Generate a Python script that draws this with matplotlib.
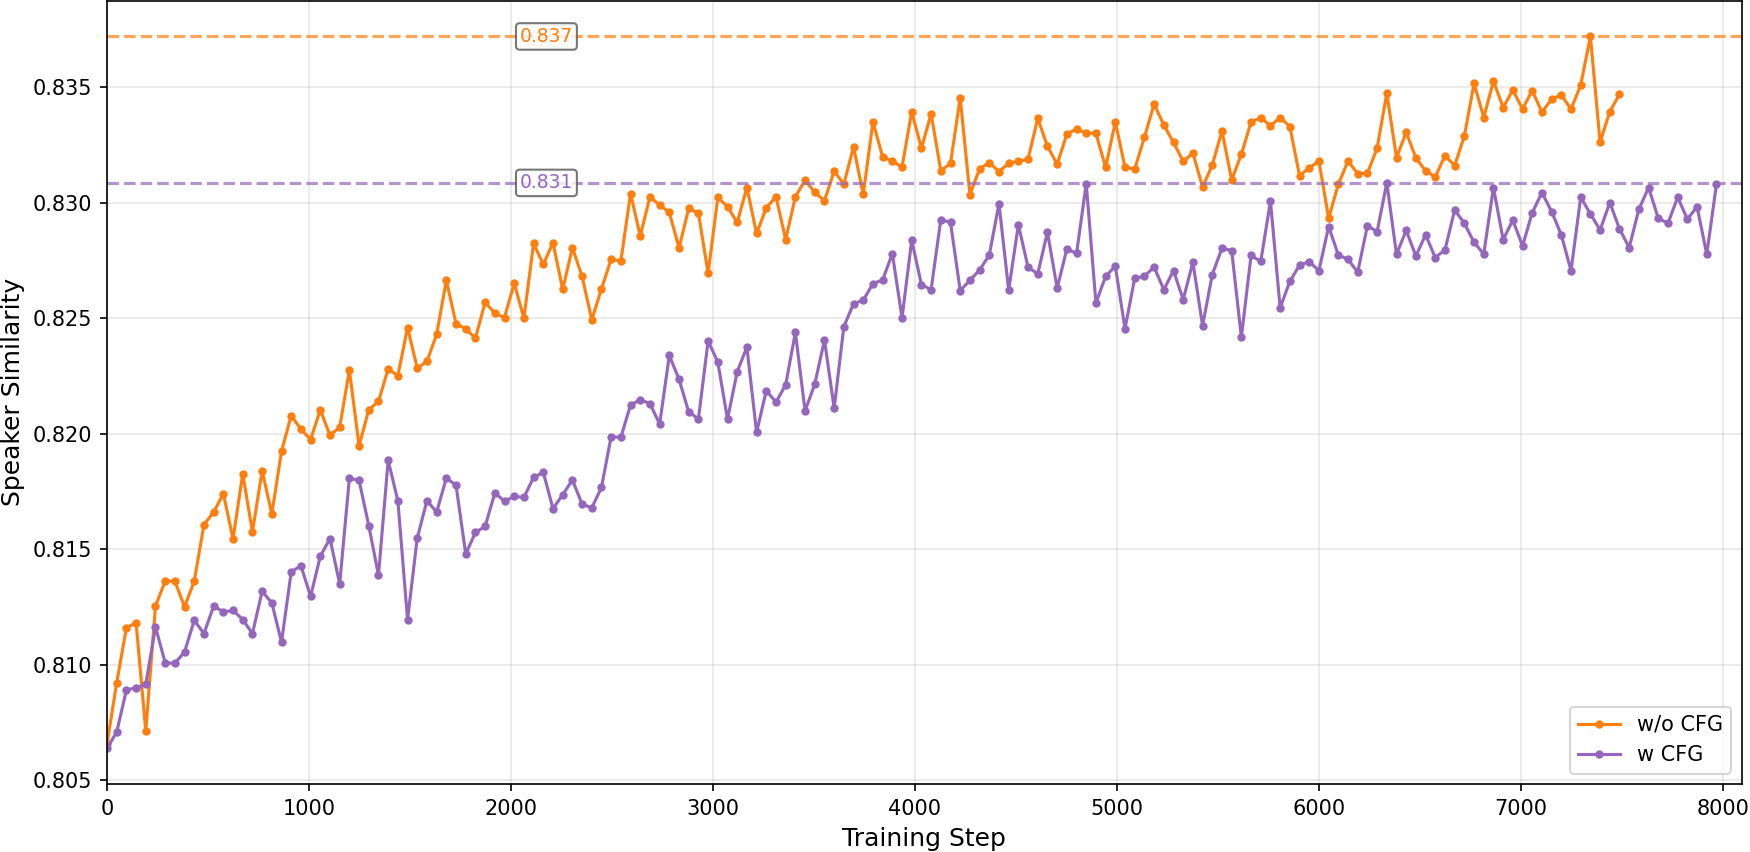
import matplotlib
matplotlib.use("Agg")
import matplotlib.pyplot as plt
import numpy as np

# evaluation every 48 training steps
step_size = 48

# w/o CFG
no_cfg = [
    0.80656, 0.80922, 0.81160, 0.81182, 0.80713, 0.81254, 0.81362, 0.81362, 0.81251, 0.81362,
    0.81607, 0.81660, 0.81741, 0.81545, 0.81827, 0.81575, 0.81840, 0.81653, 0.81924, 0.82079,
    0.82020, 0.81975, 0.82104, 0.81993, 0.82029, 0.82275, 0.81948, 0.82104, 0.82140, 0.82281,
    0.82251, 0.82460, 0.82284, 0.82313, 0.82431, 0.82664, 0.82477, 0.82454, 0.82414, 0.82569,
    0.82522, 0.82503, 0.82652, 0.82500, 0.82824, 0.82733, 0.82827, 0.82625, 0.82805, 0.82682,
    0.82493, 0.82627, 0.82756, 0.82748, 0.83040, 0.82856, 0.83026, 0.82990, 0.82958, 0.82805,
    0.82976, 0.82955, 0.82695, 0.83023, 0.82983, 0.82915, 0.83066, 0.82867, 0.82978, 0.83026,
    0.82841, 0.83026, 0.83098, 0.83045, 0.83009, 0.83137, 0.83081, 0.83242, 0.83036, 0.83350,
    0.83199, 0.83180, 0.83155, 0.83394, 0.83236, 0.83385, 0.83138, 0.83171, 0.83455, 0.83035,
    0.83147, 0.83174, 0.83135, 0.83171, 0.83179, 0.83189, 0.83366, 0.83244, 0.83167, 0.83297,
    0.83320, 0.83301, 0.83301, 0.83153, 0.83350, 0.83153, 0.83146, 0.83284, 0.83427, 0.83337,
    0.83261, 0.83179, 0.83215, 0.83068, 0.83164, 0.83311, 0.83099, 0.83210, 0.83349, 0.83369,
    0.83333, 0.83369, 0.83330, 0.83117, 0.83151, 0.83181, 0.82933, 0.83080, 0.83181, 0.83126,
    0.83128, 0.83236, 0.83474, 0.83195, 0.83305, 0.83195, 0.83138, 0.83112, 0.83204, 0.83161,
    0.83289, 0.83517, 0.83369, 0.83527, 0.83412, 0.83488, 0.83406, 0.83486, 0.83392, 0.83449,
    0.83467, 0.83405, 0.83510, 0.83720, 0.83262, 0.83395, 0.83470,
]

# w CFG
with_cfg = [
    0.80638, 0.80709, 0.80890, 0.80901, 0.80915, 0.81164, 0.81009, 0.81006, 0.81056, 0.81192,
    0.81135, 0.81254, 0.81229, 0.81235, 0.81196, 0.81135, 0.81318, 0.81268, 0.81098, 0.81402,
    0.81429, 0.81296, 0.81470, 0.81546, 0.81350, 0.81808, 0.81798, 0.81602, 0.81388, 0.81885,
    0.81710, 0.81195, 0.81549, 0.81710, 0.81661, 0.81808, 0.81777, 0.81480, 0.81573, 0.81599,
    0.81744, 0.81708, 0.81729, 0.81725, 0.81811, 0.81833, 0.81676, 0.81736, 0.81800, 0.81696,
    0.81679, 0.81768, 0.81988, 0.81984, 0.82125, 0.82147, 0.82131, 0.82042, 0.82339, 0.82236,
    0.82094, 0.82065, 0.82402, 0.82310, 0.82063, 0.82269, 0.82375, 0.82006, 0.82187, 0.82137,
    0.82212, 0.82439, 0.82099, 0.82215, 0.82406, 0.82111, 0.82464, 0.82563, 0.82578, 0.82650,
    0.82666, 0.82780, 0.82502, 0.82838, 0.82646, 0.82624, 0.82927, 0.82915, 0.82620, 0.82664,
    0.82709, 0.82774, 0.82996, 0.82622, 0.82905, 0.82720, 0.82693, 0.82873, 0.82630, 0.82800,
    0.82781, 0.83082, 0.82566, 0.82682, 0.82725, 0.82455, 0.82674, 0.82682, 0.82722, 0.82624,
    0.82706, 0.82581, 0.82743, 0.82468, 0.82689, 0.82804, 0.82793, 0.82418, 0.82772, 0.82746,
    0.83007, 0.82545, 0.82660, 0.82730, 0.82745, 0.82706, 0.82897, 0.82774, 0.82755, 0.82699,
    0.82901, 0.82875, 0.83086, 0.82777, 0.82880, 0.82770, 0.82861, 0.82763, 0.82796, 0.82969,
    0.82911, 0.82829, 0.82778, 0.83066, 0.82840, 0.82925, 0.82813, 0.82957, 0.83044, 0.82962,
    0.82861, 0.82706, 0.83024, 0.82952, 0.82882, 0.83001, 0.82887, 0.82806, 0.82972, 0.83066,
    0.82933, 0.82911, 0.83024, 0.82929, 0.82983, 0.82777, 0.83080,
]

series = [
    ("w/o CFG", no_cfg, "#ff7f0e"),
    ("w CFG", with_cfg, "#9467bd"),
]

fig = plt.figure(figsize=(1750 / 150, 852 / 150), dpi=150)
ax = fig.add_axes([107 / 1750, 1 - 784 / 852, (1741.7 - 107) / 1750, 784 / 852 - 0.001])

for name, vals, color in series:
    steps = np.arange(len(vals)) * step_size
    ax.plot(steps, vals, "-o", color=color, lw=1.5, markersize=3, label=name)

for name, vals, color in series:
    best = max(vals)
    ax.axhline(best, color=color, ls="--", lw=1.5, alpha=0.7)
    ax.text(0.2525, best, f"{best:.3f}", transform=ax.get_yaxis_transform(),
            color=color, fontsize=9, ha="left", va="center",
            bbox=dict(boxstyle="round,pad=0.2", facecolor="white", edgecolor="#555555", alpha=0.8))

ax.set_xlim(0, 8093)
ax.grid(True, alpha=0.3)
ax.set_xlabel("Training Step", fontsize=12)
ax.set_ylabel("Speaker Similarity", fontsize=12)
ax.legend(loc="lower right")

fig.savefig("out.png", dpi=150)
